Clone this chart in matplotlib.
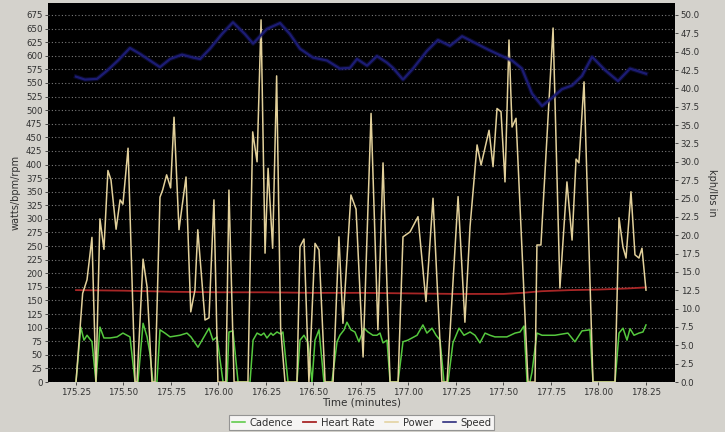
import numpy as np
import matplotlib
matplotlib.use("Agg")
import matplotlib.pyplot as plt

#%% Dados
power_t = [175.250, 175.285, 175.308, 175.334, 175.355, 175.376, 175.397, 175.418,
           175.434, 175.461, 175.482, 175.497, 175.524, 175.561, 175.571, 175.603,
           175.624, 175.650, 175.666, 175.692, 175.706, 175.727, 175.748, 175.766,
           175.792, 175.829, 175.854, 175.876, 175.891, 175.929, 175.950, 175.976,
           175.997, 176.039, 176.055, 176.082, 176.155, 176.180, 176.203, 176.224,
           176.245, 176.261, 176.285, 176.306, 176.327, 176.350, 176.413, 176.429,
           176.450, 176.476, 176.508, 176.529, 176.561, 176.603, 176.634, 176.655,
           176.697, 176.724, 176.761, 176.803, 176.839, 176.866, 176.903, 176.945,
           176.971, 177.008, 177.050, 177.092, 177.129, 177.176, 177.203, 177.261,
           177.297, 177.324, 177.361, 177.382, 177.424, 177.445, 177.466, 177.487,
           177.508, 177.529, 177.545, 177.566, 177.629, 177.666, 177.676, 177.697,
           177.761, 177.797, 177.834, 177.861, 177.882, 177.897, 177.924, 177.971,
           178.087, 178.108, 178.129, 178.145, 178.171, 178.192, 178.213, 178.229,
           178.250]
power = [0, 163, 188, 266, 0, 300, 244, 389,
         372, 281, 335, 327, 430, 0, 0, 226,
         175, 0, 0, 340, 353, 381, 357, 487,
         280, 377, 129, 169, 280, 114, 118, 335,
         0, 0, 353, 0, 0, 460, 405, 666,
         237, 393, 246, 563, 99, 0, 0, 249,
         263, 0, 255, 243, 0, 0, 267, 108,
         344, 318, 46, 494, 96, 403, 0, 0,
         267, 276, 304, 148, 338, 0, 0, 341,
         110, 286, 436, 399, 463, 396, 503, 497,
         368, 629, 469, 485, 0, 0, 252, 252,
         651, 173, 368, 261, 410, 403, 552, 0,
         0, 302, 248, 228, 350, 234, 228, 246,
         169]

cad_t = [175.250, 175.275, 175.292, 175.308, 175.334, 175.355, 175.376, 175.397,
         175.429, 175.466, 175.497, 175.534, 175.561, 175.576, 175.603, 175.624,
         175.639, 175.655, 175.676, 175.692, 175.718, 175.745, 175.797, 175.834,
         175.855, 175.892, 175.950, 175.971, 175.992, 176.024, 176.045, 176.055,
         176.076, 176.103, 176.166, 176.182, 176.203, 176.224, 176.239, 176.255,
         176.276, 176.287, 176.308, 176.329, 176.339, 176.366, 176.413, 176.429,
         176.450, 176.471, 176.492, 176.508, 176.529, 176.555, 176.597, 176.624,
         176.639, 176.661, 176.676, 176.697, 176.718, 176.739, 176.766, 176.787,
         176.813, 176.834, 176.850, 176.866, 176.887, 176.903, 176.945, 176.971,
         176.997, 177.045, 177.076, 177.097, 177.124, 177.145, 177.166, 177.187,
         177.208, 177.234, 177.266, 177.292, 177.324, 177.350, 177.376, 177.403,
         177.429, 177.455, 177.518, 177.561, 177.587, 177.608, 177.624, 177.639,
         177.650, 177.676, 177.703, 177.771, 177.839, 177.876, 177.913, 177.955,
         177.971, 178.087, 178.108, 178.129, 178.150, 178.166, 178.187, 178.213,
         178.234, 178.250]
cadence = [0, 101, 77, 86, 74, 0, 101, 81,
           81, 83, 90, 83, 0, 0, 108, 83,
           53, 0, 0, 96, 90, 83, 86, 90,
           83, 64, 99, 77, 83, 0, 0, 92,
           94, 0, 0, 77, 90, 86, 90, 81,
           90, 86, 92, 88, 92, 0, 0, 77,
           86, 72, 0, 77, 96, 0, 0, 74,
           86, 96, 110, 96, 92, 74, 99, 92,
           86, 86, 90, 72, 77, 0, 0, 74,
           77, 86, 105, 90, 99, 86, 77, 0,
           0, 72, 99, 86, 92, 86, 72, 90,
           86, 83, 83, 90, 92, 103, 0, 0,
           18, 90, 86, 86, 90, 74, 94, 96,
           0, 0, 90, 99, 77, 98, 86, 90,
           92, 105]

hr_t = [175.25, 175.50, 175.75, 176.00, 176.25, 176.50, 176.75, 177.00,
        177.25, 177.50, 177.60, 177.70, 177.85, 178.00, 178.15, 178.25]
heart_rate = [169, 168, 166, 165, 165, 164, 164, 163,
              162, 162, 164, 167, 169, 170, 172, 174]

speed_t = [175.250, 175.297, 175.361, 175.413, 175.471, 175.534, 175.587, 175.639,
           175.692, 175.745, 175.808, 175.866, 175.903, 175.955, 176.018, 176.076,
           176.139, 176.182, 176.255, 176.324, 176.376, 176.429, 176.497, 176.571,
           176.639, 176.692, 176.729, 176.782, 176.834, 176.887, 176.918, 176.971,
           177.024, 177.097, 177.155, 177.218, 177.282, 177.350, 177.418, 177.492,
           177.545, 177.597, 177.650, 177.703, 177.755, 177.808, 177.861, 177.913,
           177.966, 178.034, 178.103, 178.166, 178.250]
speed = [41.6, 41.2, 41.3, 42.4, 43.8, 45.5, 44.7, 43.8,
         42.9, 44.0, 44.6, 44.2, 44.0, 45.4, 47.4, 49.0,
         47.4, 46.1, 48.1, 48.9, 47.4, 45.4, 44.2, 43.8,
         42.7, 42.8, 44.0, 43.1, 44.4, 43.5, 42.8, 41.2,
         42.7, 45.1, 46.6, 45.8, 47.1, 46.2, 45.3, 44.4,
         43.8, 42.7, 39.3, 37.6, 38.7, 39.9, 40.4, 41.7,
         44.3, 42.5, 41.0, 42.7, 42.0]

x_ticks = [175.25, 175.50, 175.75, 176.00, 176.25, 176.50, 176.75,
           177.00, 177.25, 177.50, 177.75, 178.00, 178.25]

#%% Figura
bg = '#d4d2cc'
txt = '#303030'
fig = plt.figure(figsize=(7.25, 4.32), dpi=100, facecolor=bg)
ax = fig.add_axes([0.0662, 0.1157, 0.8648, 0.8773])
ax.set_facecolor('black')

ax.plot(cad_t, cadence, color='#55c83e', lw=1.1, label='Cadence')
ax.plot(hr_t, heart_rate, color='#a82626', lw=1.3, label='Heart Rate')
ax.plot(power_t, power, color='#e2d09a', lw=1.1, label='Power')

ax2 = ax.twinx()
ax2.plot(speed_t, speed, color='#16165e', lw=3.2, alpha=0.45)
ax2.plot(speed_t, speed, color='#1c1c74', lw=1.6)
# linha só para a legenda
sp, = ax2.plot([], [], color='#1c1c74', lw=1.1, label='Speed')

ymax = 697
ax.set_ylim(0, ymax)
ax2.set_ylim(0, ymax * 50 / 675)
ax.set_xlim(175.1026, 178.4026)

ax.set_yticks(np.arange(0, 676, 25))
ax2.set_yticks(np.arange(0, 50.1, 2.5))
ax2.set_yticklabels(['%.1f' % v for v in np.arange(0, 50.1, 2.5)])
ax.set_xticks(x_ticks)
ax.set_xticklabels(['%.2f' % v for v in x_ticks])

ax.yaxis.grid(True, color='#7a7a7a', linestyle=(0, (1, 2)), lw=0.8)
ax.set_axisbelow(True)

for a in (ax, ax2):
    a.tick_params(labelsize=6.2, colors=txt, length=2, width=0.6, pad=2)
    for s in a.spines.values():
        s.set_visible(False)

ax.set_xlabel('Time (minutes)', fontsize=7.5, color=txt, labelpad=1)
ax.set_ylabel('watts/bpm/rpm', fontsize=7, color=txt, labelpad=4)
ax2.set_ylabel('kph/lbs in', fontsize=7, color=txt, labelpad=5, rotation=270, va='bottom')

h1, l1 = ax.get_legend_handles_labels()
leg = fig.legend(h1 + [sp], l1 + ['Speed'], loc='center', bbox_to_anchor=(0.499, 0.021),
                 ncol=4, fontsize=7.2, frameon=True, fancybox=False,
                 handlelength=1.3, columnspacing=1.0, handletextpad=0.5,
                 borderpad=0.25, labelcolor=txt)
leg.get_frame().set_edgecolor('#808080')
leg.get_frame().set_facecolor('white')
leg.get_frame().set_linewidth(0.8)

fig.savefig('out.png', dpi=100, facecolor=bg)
